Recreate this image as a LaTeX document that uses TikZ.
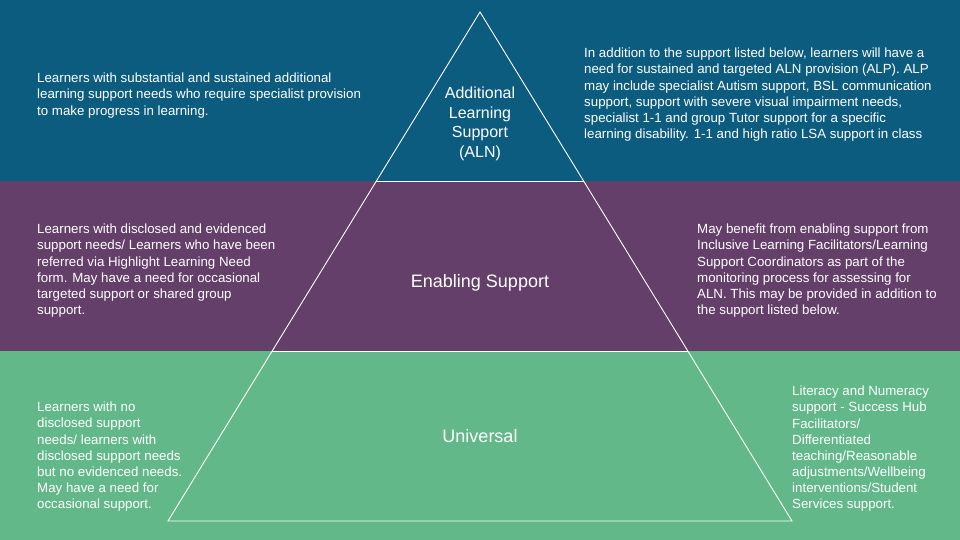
\documentclass[tikz,border=0pt]{standalone}
\usepackage{fontspec}
\setmainfont{Liberation Sans}
\definecolor{bandblue}{RGB}{12,92,128}
\definecolor{bandpurple}{RGB}{100,63,106}
\definecolor{bandgreen}{RGB}{98,184,137}
\begin{document}
\begin{tikzpicture}[x=1pt,y=-1pt,
  body/.style={text=white,align=left,inner sep=0pt,anchor=north west,
    font=\fontsize{13.3}{16.15}\selectfont},
  tiername/.style={text=white,align=center,inner sep=0pt},
  outline/.style={draw=white,line width=0.9pt,line join=miter}]
  \useasboundingbox (0,0) rectangle (960,540);
  % coloured bands
  \fill[bandblue] (0,0) rectangle (960,181);
  \fill[bandpurple] (0,181) rectangle (960,351);
  \fill[bandgreen] (0,351) rectangle (960,540);
  % pyramid outline and tier dividers
  \coordinate (apex) at (480,12);
  \coordinate (bl) at (168,521);
  \coordinate (br) at (792,521);
  \coordinate (t1l) at (376.4,181);
  \coordinate (t1r) at (583.6,181);
  \coordinate (t2l) at (272.2,351);
  \coordinate (t2r) at (687.8,351);
  \draw[outline] (apex) -- (bl) -- (br) -- cycle;
  \draw[outline] (t1l) -- (t1r);
  \draw[outline] (t2l) -- (t2r);
  % tier names
  \node[tiername,font=\fontsize{16}{19.7}\selectfont] (aln) at (480,124)
    {Additional\\Learning\\Support\\(ALN)};
  \node[tiername,font=\fontsize{18}{21}\selectfont] (enab) at (480,283) {Enabling Support};
  \node[tiername,font=\fontsize{18}{21}\selectfont] (univ) at (480,436) {Universal};
  % descriptions
  \node[body] (d1l) at (37,73) {Learners with substantial and sustained additional\\
    learning support needs who require specialist provision\\
    to make progress in learning.};
  \node[body] (d1r) at (584,48) {In addition to the support listed below, learners will have a\\
    need for sustained and targeted ALN provision (ALP). ALP\\
    may include specialist Autism support, BSL communication\\
    support, support with severe visual impairment needs,\\
    specialist 1-1 and group Tutor support for a specific\\
    learning disability. 1-1 and high ratio LSA support in class};
  \node[body] (d2l) at (37,224) {Learners with disclosed and evidenced\\
    support needs/ Learners who have been\\
    referred via Highlight Learning Need\\
    form. May have a need for occasional\\
    targeted support or shared group\\
    support.};
  \node[body] (d2r) at (697,224) {May benefit from enabling support from\\
    Inclusive Learning Facilitators/Learning\\
    Support Coordinators as part of the\\
    monitoring process for assessing for\\
    ALN. This may be provided in addition to\\
    the support listed below.};
  \node[body] (d3l) at (37,402) {Learners with no\\
    disclosed support\\
    needs/ learners with\\
    disclosed support needs\\
    but no evidenced needs.\\
    May have a need for\\
    occasional support.};
  \node[body] (d3r) at (792,386) {Literacy and Numeracy\\
    support - Success Hub\\
    Facilitators/\\
    Differentiated\\
    teaching/Reasonable\\
    adjustments/Wellbeing\\
    interventions/Student\\
    Services support.};
\end{tikzpicture}
\end{document}
